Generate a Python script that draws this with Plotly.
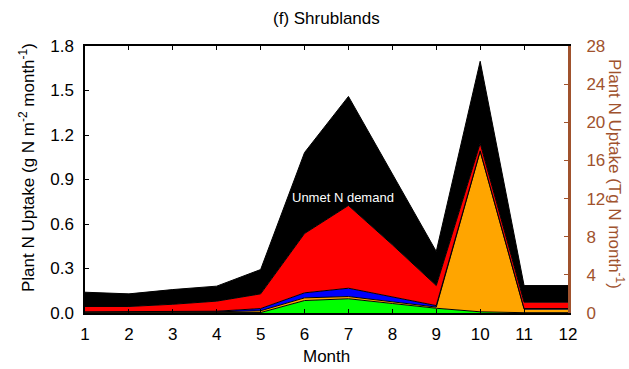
import plotly.graph_objects as go

# Monthly plant N uptake components for shrublands (g N m-2 month-1)
months = [1, 2, 3, 4, 5, 6, 7, 8, 9, 10, 11, 12]
green_part = [0.001, 0.001, 0.001, 0.001, 0.003, 0.084, 0.096, 0.064, 0.032, 0.008, 0.002, 0.002]
orange_part = [0.005, 0.005, 0.006, 0.007, 0.012, 0.018, 0.015, 0.011, 0.008, 1.082, 0.024, 0.024]
blue_part = [0.002, 0.002, 0.003, 0.004, 0.015, 0.034, 0.056, 0.035, 0.010, 0.003, 0.004, 0.004]
red_part = [0.036, 0.036, 0.049, 0.068, 0.099, 0.400, 0.558, 0.350, 0.135, 0.051, 0.043, 0.043]
unmet_demand = [0.096, 0.085, 0.099, 0.101, 0.164, 0.546, 0.735, 0.480, 0.230, 0.553, 0.112, 0.112]

left_ticks = [0.0, 0.3, 0.6, 0.9, 1.2, 1.5, 1.8]
right_ticks = [0, 4, 8, 12, 16, 20, 24, 28]

# Regional total scale: 1.8 g N m-2 month-1 corresponds to 28 Tg N month-1
TG_PER_UNIT = 28 / 1.8

FONT = "Liberation Sans, Arial, Helvetica, sans-serif"
BROWN = "#A0522D"

layers = [
    (green_part, "#00FF00"),
    (orange_part, "#FFA500"),
    (blue_part, "#0000FF"),
    (red_part, "#FF0000"),
    (unmet_demand, "#000000"),
]

fig = go.Figure()
for vals, col in layers:
    fig.add_trace(go.Scatter(
        x=months, y=vals, mode="lines", stackgroup="uptake",
        line=dict(color="black", width=1), fillcolor=col,
        showlegend=False, hoverinfo="skip",
    ))

# Total uptake in Tg on the right axis (kept invisible; it only anchors the axis)
totals_tg = [
    sum(v) * TG_PER_UNIT
    for v in zip(green_part, orange_part, blue_part, red_part, unmet_demand)
]
fig.add_trace(go.Scatter(
    x=months, y=totals_tg, yaxis="y2", mode="lines",
    line=dict(width=0, color="rgba(0,0,0,0)"), showlegend=False,
    hoverinfo="skip",
))

fig.update_layout(
    width=629, height=369,
    margin=dict(l=85, r=61, t=46, b=56),
    paper_bgcolor="white", plot_bgcolor="white",
    font=dict(family=FONT, size=17, color="black"),
    showlegend=False,
    xaxis=dict(
        range=[1, 12], tickvals=months, ticks="inside", ticklen=4,
        tickwidth=1, tickcolor="black", showline=True, linecolor="black",
        linewidth=1.5, mirror="ticks", showgrid=False, zeroline=False,
        tickfont=dict(size=17), ticklabelstandoff=5,
    ),
    yaxis=dict(
        range=[0, 1.8], tickvals=left_ticks, tickformat=".1f",
        ticks="inside", ticklen=4, tickwidth=1, tickcolor="black",
        showline=True, linecolor="black", linewidth=1.5,
        showgrid=False, zeroline=False, tickfont=dict(size=17),
        ticklabelstandoff=6,
    ),
    yaxis2=dict(
        overlaying="y", side="right", range=[0, 28], tickvals=right_ticks,
        ticks="inside", ticklen=4, tickwidth=1, tickcolor=BROWN,
        showline=True, linecolor=BROWN, linewidth=3, showgrid=False,
        zeroline=False, tickfont=dict(size=17, color=BROWN),
        ticklabelstandoff=12,
    ),
)

common = dict(xref="paper", yref="paper", showarrow=False,
              xanchor="center", yanchor="middle")
fig.add_annotation(text="(f) Shrublands", x=0.5, y=1.103,
                   font=dict(size=17, color="black"), **common)
fig.add_annotation(
    text="Plant N Uptake (g N m<sup>-2</sup> month<sup>-1</sup>)",
    x=-0.12, y=0.543, textangle=-90,
    font=dict(size=17, color="black"), **common,
)
fig.add_annotation(
    text="Plant N Uptake (Tg N month<sup>-1</sup>)",
    x=1.098, y=0.519, textangle=90,
    font=dict(size=17, color=BROWN), **common,
)
fig.add_annotation(text="Month", x=0.5, y=-0.162,
                   font=dict(size=17, color="black"), **common)
fig.add_annotation(
    text="Unmet N demand", xref="x", yref="y", x=6.87, y=0.777,
    showarrow=False, xanchor="center", yanchor="middle",
    font=dict(size=13, color="white"),
)

fig.write_html("out.html")
